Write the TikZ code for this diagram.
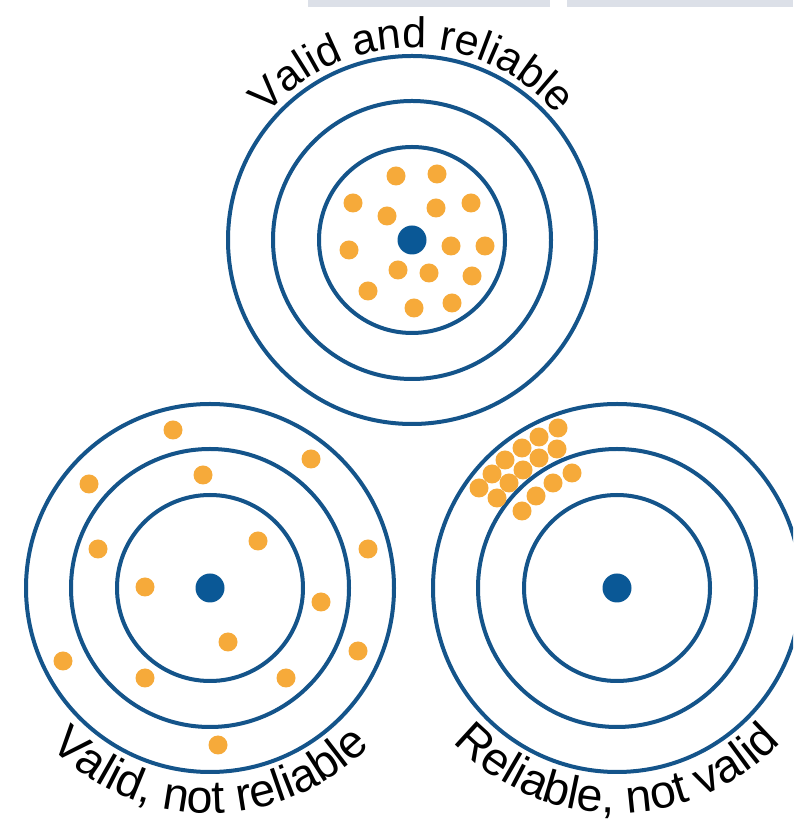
\documentclass[tikz,border=0pt]{standalone}
\usepackage{fontspec}
\newfontfamily\labfont{Liberation Sans}
\usetikzlibrary{decorations.text}
\definecolor{ringblue}{RGB}{20,84,138}
\definecolor{bullblue}{RGB}{10,88,150}
\definecolor{shotorange}{RGB}{246,170,58}
\definecolor{bargray}{RGB}{220,224,232}
\begin{document}
\begin{tikzpicture}[x=1pt,y=1pt,
  ringline/.style={draw=ringblue,line width=4pt},
  bullseye/.style={fill=bullblue},
  shotdot/.style={fill=shotorange},
  barbox/.style={fill=bargray}]
\useasboundingbox (0,0) rectangle (793,824);
\clip (0,0) rectangle (793,824);
\fill[white] (0,0) rectangle (793,824);
\fill[barbox] (308,817) rectangle (550,824);
\fill[barbox] (567,817) rectangle (793,824);
\begin{scope}[shift={(0,824)},yscale=-1]
  \coordinate (T) at (412,240);
  \coordinate (L) at (210,588);
  \coordinate (R) at (617,588);
  \foreach \c in {T,L,R}{
    \foreach \r in {184,139,93}{\draw[ringline] (\c) circle[radius=\r];}
    \fill[bullseye] (\c) circle[radius=14.5];
  }
  \foreach \p in {(396,176),(437,174),(353,203),(471,203),(387,216),(436,208),(349,250),(451,246),(485,246),(398,270),(429,273),(472,276),(368,291),(414,308),(452,303)}
    {\fill[shotdot] \p circle[radius=9.5];}
  \foreach \p in {(173,430),(311,459),(89,484),(203,475),(98,549),(258,541),(368,549),(145,587),(321,602),(228,642),(358,651),(63,661),(145,678),(286,678),(218,745)}
    {\fill[shotdot] \p circle[radius=9.5];}
  \foreach \p in {(558,428),(539,437),(522,448),(557,449),(539,458),(505,460),(523,470),(492,474),(572,473),(509,483),(553,483),(479,488),(536,496),(497,498),(522,511)}
    {\fill[shotdot] \p circle[radius=9.5];}
\end{scope}
\path[decorate,decoration={text along path,text align=center,
  text={|\labfont\fontsize{43}{48}\selectfont|Valid and reliable}}]
  (220,584) arc[start angle=180,end angle=0,radius=192];
\path[decorate,decoration={text along path,text align=center,
  text={|\labfont\fontsize{46.5}{52}\selectfont|Valid, not reliable}}]
  (-15,236) arc[start angle=180,end angle=360,radius=225];
\path[decorate,decoration={text along path,text align=center,
  text={|\labfont\fontsize{46.5}{52}\selectfont|Reliable, not valid}}]
  (392,236) arc[start angle=180,end angle=360,radius=225];
\end{tikzpicture}
\end{document}
